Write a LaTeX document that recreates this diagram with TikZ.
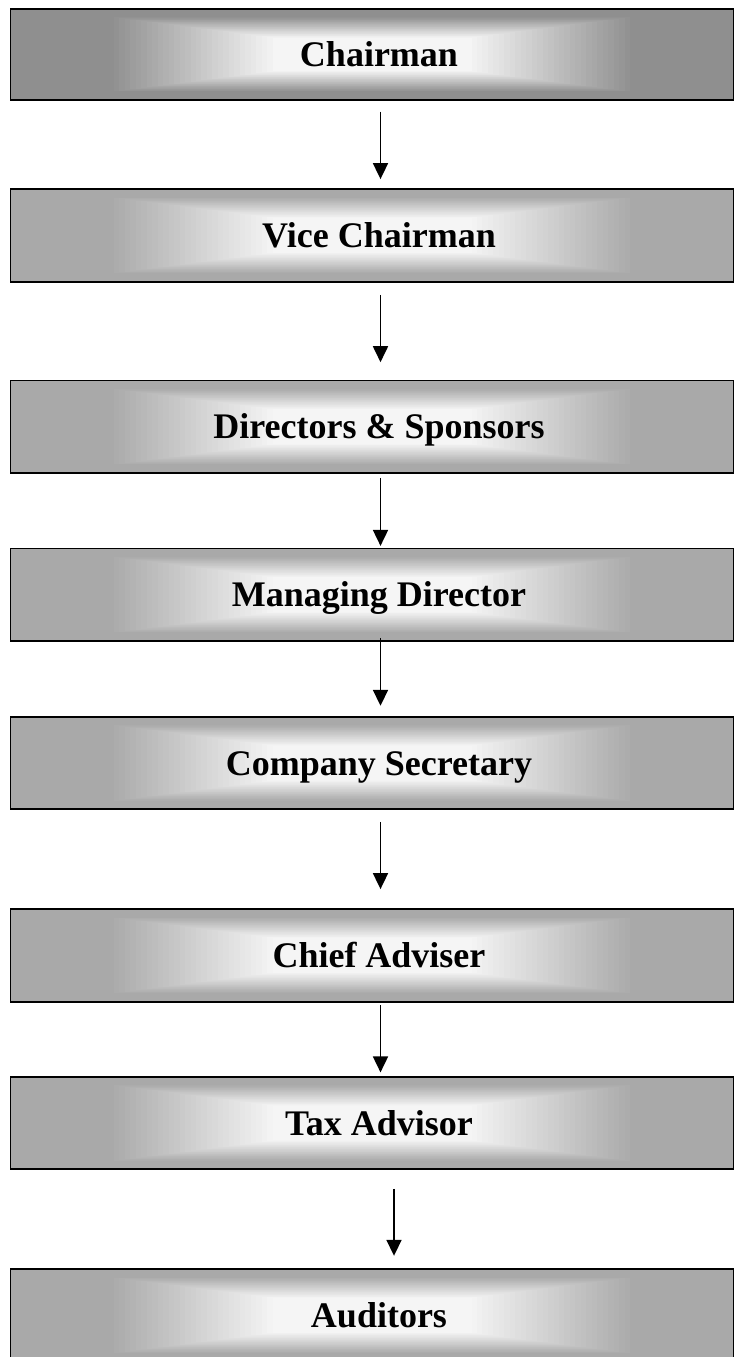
\documentclass[tikz,border=0pt]{standalone}
\usepackage{fontspec}
\setmainfont{Liberation Serif}
\usetikzlibrary{arrows.meta,calc}
\definecolor{boxlight}{HTML}{F5F5F5}
\definecolor{edgedark}{HTML}{8F8F8F}
\definecolor{edgemid}{HTML}{A9A9A9}
\tikzset{
  shadeedge/.store in=\shadeedge, shadeedge=edgemid,
  orgbox/.style={draw=black, line width=1.8pt, minimum width=723pt, minimum height=92.6pt,
    inner sep=0pt, font=\fontsize{36}{40}\selectfont\bfseries, text height=24pt, text depth=0pt,
    execute at begin node={\hspace*{14pt}},
    path picture={
      \fill[\shadeedge] (path picture bounding box.south west) rectangle (path picture bounding box.north east);
      \foreach \i in {1,...,30}{
        \pgfmathsetmacro\dx{98+\i*164/30}
        \pgfmathsetmacro\dy{8+\i*21/30}
        \pgfmathsetmacro\p{100*\i/30}
        \fill[boxlight!\p!\shadeedge] ($(path picture bounding box.south west)+(\dx pt,\dy pt)$) rectangle ($(path picture bounding box.north east)-(\dx pt,\dy pt)$);
      }
    }},
  arr/.style={line width=1.8pt, -{Triangle[width=15pt,length=16pt]}}
}
\begin{document}
\begin{tikzpicture}[x=1pt,y=-1pt]
\useasboundingbox (0,0) rectangle (734,1357);
\clip (0,0) rectangle (734,1357);
\node[orgbox, shadeedge=edgedark, minimum height=91.3pt] (chair) at (372,54.4) {Chairman};
\node[orgbox] (vice) at (372,235.3) {Vice Chairman};
\node[orgbox] (dirs) at (372,426.7) {Directors \& Sponsors};
\node[orgbox] (md) at (372,594.7) {Managing Director};
\node[orgbox] (cs) at (372,763) {Company Secretary};
\node[orgbox] (ca) at (372,955.3) {Chief Adviser};
\node[orgbox] (tax) at (372,1123) {Tax Advisor};
\node[orgbox] (aud) at (372,1315.3) {Auditors};
\draw[arr] ([xshift=8.5pt,yshift=-10.7pt]chair.south) -- ([xshift=8.5pt,yshift=9pt]vice.north);
\draw[arr] ([xshift=8.5pt,yshift=-12.3pt]vice.south) -- ([xshift=8.5pt,yshift=17.3pt]dirs.north);
\draw[arr] ([xshift=8.5pt,yshift=-4pt]dirs.south) -- ([xshift=8.5pt,yshift=1.6pt]md.north);
\draw[arr] ([xshift=8.5pt,yshift=4pt]md.south) -- ([xshift=8.5pt,yshift=10pt]cs.north);
\draw[arr] ([xshift=8.5pt,yshift=-11.7pt]cs.south) -- ([xshift=8.5pt,yshift=19pt]ca.north);
\draw[arr] ([xshift=8.5pt,yshift=-2.6pt]ca.south) -- ([xshift=8.5pt,yshift=3.4pt]tax.north);
\draw[arr] ([xshift=22pt,yshift=-18.7pt]tax.south) -- ([xshift=22pt,yshift=12.3pt]aud.north);
\end{tikzpicture}
\end{document}
